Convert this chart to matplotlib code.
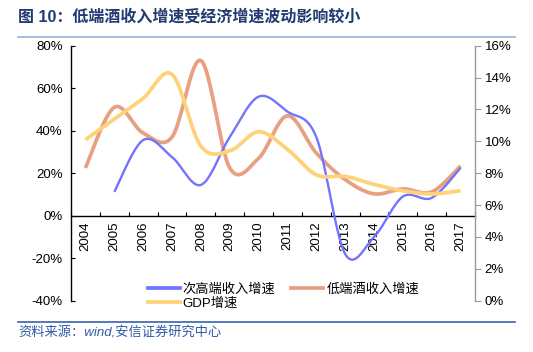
import numpy as np
import matplotlib.pyplot as plt
from matplotlib.lines import Line2D

plt.rcParams['font.family'] = ['Liberation Sans', 'Noto Sans CJK SC', 'DejaVu Sans']

years = ['2004', '2005', '2006', '2007', '2008', '2009', '2010',
         '2011', '2012', '2013', '2014', '2015', '2016', '2017']
# 次高端收入增速 (no 2004 value)
sub_high = [None, 11.2, 35.6, 27.6, 14.5, 37.0, 56.0, 49.0, 37.0, -18.0, -10.0, 9.0, 8.4, 22.5]
# 低端酒收入增速
low_end = [22.5, 51.0, 38.9, 37.0, 73.0, 22.5, 27.0, 47.0, 29.5, 17.0, 10.3, 12.6, 11.2, 23.4]
# GDP增速 (right axis)
gdp = [10.1, 11.4, 12.7, 14.2, 9.7, 9.4, 10.6, 9.5, 7.9, 7.8, 7.3, 6.9, 6.7, 6.9]

BLUE = '#7373ff'
SALMON = '#e8a083'
YELLOW = '#ffd27a'


def smooth(xs, ys, n=24):
    # Excel-style smoothed line (Catmull-Rom as cubic Bezier)
    xs = np.asarray(xs, float)
    ys = np.asarray(ys, float)
    px, py = [], []
    m = len(xs)
    for i in range(m - 1):
        i0, i3 = max(i - 1, 0), min(i + 2, m - 1)
        p0 = np.array([xs[i], ys[i]])
        p3 = np.array([xs[i + 1], ys[i + 1]])
        c1 = p0 + (p3 - np.array([xs[i0], ys[i0]])) / 6
        c2 = p3 - (np.array([xs[i3], ys[i3]]) - p0) / 6
        t = np.linspace(0, 1, n)[:, None]
        pts = ((1 - t) ** 3) * p0 + 3 * ((1 - t) ** 2) * t * c1 + 3 * (1 - t) * t ** 2 * c2 + t ** 3 * p3
        px.extend(pts[:, 0])
        py.extend(pts[:, 1])
    return px, py


fig = plt.figure(figsize=(5.33, 3.52), dpi=100)
ax1 = fig.add_axes([0.1332, 0.1457, 0.758, 0.7245])
ax2 = ax1.twinx()

x = np.arange(len(years))
idx = [i for i, v in enumerate(sub_high) if v is not None]
bx, by = smooth([x[i] for i in idx], [sub_high[i] for i in idx])
ax1.plot(bx, by, color=BLUE, lw=1.7, solid_capstyle='butt', zorder=3)
sx, sy = smooth(x, low_end)
ax1.plot(sx, sy, color=SALMON, lw=2.7, solid_capstyle='butt', zorder=2)
gx, gy = smooth(x, gdp)
ax2.plot(gx, gy, color=YELLOW, lw=2.7, solid_capstyle='butt')

ax1.set_xlim(-0.5, len(years) - 0.5)
ax1.set_ylim(-40, 80)
ax1.set_yticks(np.arange(-40, 81, 20))
ax1.set_yticklabels([f'{v}%' for v in range(-40, 81, 20)], fontsize=9.5)
ax1.tick_params(axis='y', direction='in', length=3, width=0.8, pad=6)
ax2.set_ylim(0, 16)
ax2.set_yticks(np.arange(0, 17, 2))
ax2.set_yticklabels([f'{v}%' for v in range(0, 17, 2)], fontsize=9.5)
ax2.tick_params(axis='y', direction='out', length=4, width=0.8, color='#999999', pad=3)

ax1.spines['bottom'].set_position(('data', 0))
ax1.set_xticks(np.arange(-0.5, len(years), 1))
ax1.set_xticklabels([])
ax1.tick_params(axis='x', which='major', direction='in', length=3, width=0.8)
ax1.set_xticks(x, minor=True)
ax1.set_xticklabels(years, minor=True, rotation=90, fontsize=9.5)
ax1.tick_params(axis='x', which='minor', length=0, pad=4)

for s in ['top', 'right']:
    ax1.spines[s].set_visible(False)
for s in ['top', 'left', 'bottom']:
    ax2.spines[s].set_visible(False)
ax1.spines['left'].set_linewidth(1.0)
ax1.spines['bottom'].set_linewidth(1.0)
ax2.spines['right'].set_color('#999999')
ax2.spines['right'].set_linewidth(1.0)

handles = [Line2D([], [], color=BLUE, lw=2.7, label='次高端收入增速'),
           Line2D([], [], color=YELLOW, lw=2.7, label='GDP增速'),
           Line2D([], [], color=SALMON, lw=2.7, label='低端酒收入增速')]
fig.legend(handles=handles, ncol=2, loc='upper left', bbox_to_anchor=(0.265, 0.215),
           frameon=False, fontsize=9.5, handlelength=2.4, handletextpad=0.25,
           columnspacing=1.2, labelspacing=0.1, borderpad=0)

fig.text(0.034, 0.952, '图 10：低端酒收入增速受经济增速波动影响较小', fontsize=11.5,
         fontweight='bold', color='#1f3b70', va='center', ha='left')
fig.add_artist(Line2D([0.034, 0.966], [0.895, 0.895], color='#9ab0d8', lw=1.2))
fig.add_artist(Line2D([0.034, 0.966], [0.085, 0.085], color='#3a62b0', lw=1.2))
fig.text(0.034, 0.055, '资料来源：wind,安信证券研究中心', fontsize=9.5, style='italic',
         color='#2f5aa8', va='center', ha='left')

fig.savefig('out.png', dpi=100)
